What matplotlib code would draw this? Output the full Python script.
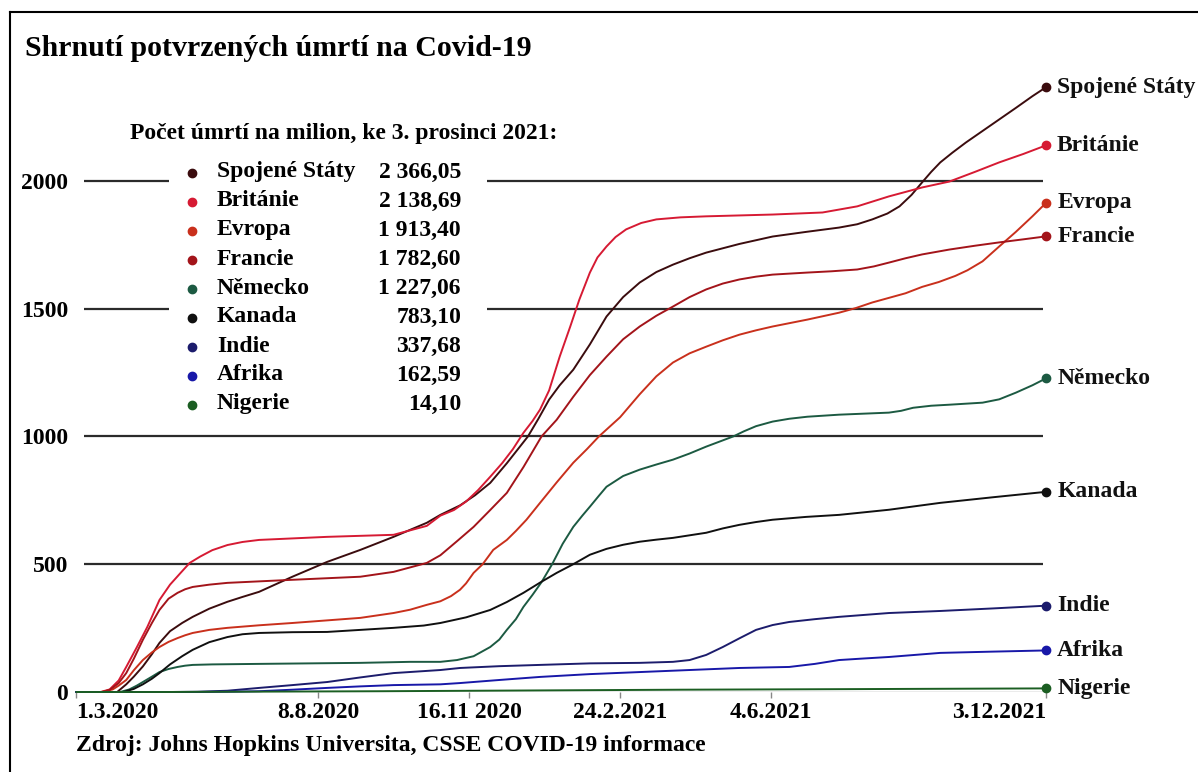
import matplotlib
matplotlib.use("Agg")
import matplotlib.pyplot as plt
from matplotlib.lines import Line2D
from matplotlib.patches import Rectangle

plt.rcParams["font.family"] = ["Liberation Serif", "DejaVu Serif"]
plt.rcParams["font.weight"] = "bold"

W, H = 1198, 772

# days since 1.3.2020 and deaths per million
us_d = [0, 27, 33, 38, 44, 50, 55, 62, 70, 77, 88, 100, 110, 121, 143, 166, 188, 210, 232, 241,
        254, 264, 274, 285, 299, 306, 313, 320, 329, 340, 351, 362, 373, 384, 395, 406, 417, 439,
        461, 483, 505, 517, 527, 537, 545, 553, 560, 566, 572, 580, 589, 600, 611, 622, 633, 642]
us_v = [0, 0, 30, 60, 100, 148, 192, 238, 270, 294, 326, 353, 372, 392, 451, 509, 556, 607, 662, 693,
        730, 770, 818, 895, 1000, 1070, 1144, 1200, 1261, 1360, 1469, 1545, 1602, 1643, 1672, 1697, 1719, 1753,
        1782, 1800, 1817, 1830, 1849, 1872, 1900, 1945, 1994, 2035, 2072, 2110, 2150, 2195, 2240, 2285, 2331, 2366.05]

uk_d = [0, 16, 22, 28, 33, 40, 47, 55, 62, 69, 75, 82, 90, 100, 110, 121, 166, 210, 232, 241,
        250, 258, 266, 274, 282, 289, 296, 302, 307, 313, 320, 327, 333, 340, 345, 351, 357, 364,
        374, 384, 400, 417, 461, 494, 517, 538, 560, 578, 595, 611, 627, 642]
uk_v = [0, 0, 10, 45, 98, 175, 255, 360, 420, 466, 505, 530, 555, 575, 587, 595, 607, 615, 650, 690,
        712, 745, 790, 842, 896, 950, 1014, 1060, 1105, 1180, 1312, 1430, 1535, 1641, 1700, 1743, 1780, 1810,
        1835, 1849, 1857, 1861, 1868, 1876, 1900, 1939, 1974, 1997, 2035, 2072, 2105, 2138.69]

eu_d = [0, 17, 24, 28, 33, 38, 44, 50, 55, 61, 67, 72, 77, 88, 100, 121, 143, 188, 210, 221,
        232, 241, 248, 254, 258, 263, 269, 276, 285, 291, 298, 307, 318, 329, 338, 346, 360, 373,
        384, 395, 406, 417, 428, 439, 450, 461, 484, 505, 516, 527, 538, 549, 560, 571, 582, 590,
        600, 611, 622, 633, 642]
eu_v = [0, 0, 10, 25, 47, 85, 125, 155, 176, 196, 211, 222, 231, 243, 251, 261, 270, 290, 309, 322,
        341, 355, 375, 400, 425, 466, 500, 556, 595, 630, 674, 740, 820, 897, 950, 1000, 1075, 1165,
        1235, 1289, 1325, 1351, 1376, 1398, 1415, 1430, 1457, 1484, 1502, 1524, 1542, 1560, 1585, 1604, 1628, 1650,
        1685, 1743, 1800, 1861, 1913.40]

fr_d = [0, 17, 22, 28, 33, 38, 44, 50, 55, 61, 67, 72, 77, 88, 100, 143, 188, 210, 232, 241,
        252, 263, 274, 285, 296, 308, 318, 329, 340, 351, 362, 373, 384, 395, 406, 417, 428, 439,
        450, 461, 484, 500, 517, 528, 538, 549, 560, 578, 595, 611, 627, 642]
fr_v = [0, 0, 8, 35, 74, 130, 204, 270, 321, 365, 388, 402, 411, 420, 427, 439, 451, 470, 505, 535,
        590, 646, 712, 779, 880, 1000, 1065, 1155, 1240, 1312, 1380, 1430, 1472, 1508, 1545, 1575, 1598, 1614,
        1625, 1633, 1641, 1646, 1653, 1665, 1680, 1697, 1712, 1731, 1746, 1759, 1771, 1782.60]

de_d = [0, 29, 35, 40, 44, 50, 55, 61, 67, 72, 77, 90, 121, 188, 221, 241, 252, 263, 274, 280,
        285, 291, 296, 302, 308, 315, 322, 329, 335, 340, 346, 351, 362, 373, 384, 395, 406, 417,
        426, 435, 442, 450, 461, 472, 484, 505, 538, 546, 554, 566, 578, 600, 611, 622, 633, 642]
de_v = [0, 0, 10, 25, 39, 60, 78, 90, 98, 103, 106, 108, 110, 114, 118, 118, 125, 140, 176, 205,
        243, 285, 333, 380, 430, 500, 580, 646, 690, 725, 768, 803, 845, 870, 890, 909, 933, 960,
        980, 1000, 1020, 1040, 1058, 1069, 1077, 1085, 1093, 1100, 1112, 1120, 1124, 1132, 1145, 1171, 1200, 1227.06]

ca_d = [0, 31, 38, 44, 50, 55, 62, 70, 77, 88, 100, 110, 121, 143, 166, 210, 230, 241, 258, 274,
        285, 296, 307, 318, 329, 340, 351, 362, 373, 384, 395, 406, 417, 428, 439, 450, 461, 483,
        505, 538, 572, 607, 642]
ca_v = [0, 0, 12, 30, 52, 74, 108, 140, 165, 195, 215, 226, 231, 234, 235, 251, 260, 270, 292, 321,
        352, 388, 428, 466, 500, 537, 560, 576, 588, 596, 603, 613, 623, 640, 654, 665, 674, 685,
        693, 713, 740, 762, 783.10]

in_d = [0, 62, 80, 100, 121, 143, 166, 188, 210, 241, 254, 280, 307, 340, 373, 395, 406, 417,
        428, 439, 450, 461, 472, 489, 505, 538, 572, 607, 642]
in_v = [0, 0, 1, 5, 16, 27, 39, 57, 74, 86, 94, 101, 106, 112, 114, 118, 125, 145,
        176, 210, 243, 262, 274, 285, 294, 309, 317, 327, 337.68]

af_d = [0, 80, 100, 121, 143, 166, 188, 210, 241, 254, 280, 307, 340, 373, 406, 439, 472, 489,
        505, 521, 538, 555, 572, 607, 642]
af_v = [0, 0, 1, 3, 9, 16, 22, 27, 30, 35, 47, 59, 70, 78, 86, 94, 98, 110,
        125, 131, 137, 145, 153, 158, 162.59]

ng_d = [0, 60, 100, 200, 300, 400, 500, 642]
ng_v = [0, 0, 1, 3, 6, 9, 11, 14.10]

names = ["Spojené Státy", "Británie", "Evropa", "Francie", "Německo",
         "Kanada", "Indie", "Afrika", "Nigerie"]
values_txt = ["2 366,05", "2 138,69", "1 913,40", "1 782,60", "1 227,06",
              "783,10", "337,68", "162,59", "14,10"]
colors = ["#3b0c0e", "#d61a33", "#c9301c", "#a3141a", "#1c5a42",
          "#101010", "#1c1c6c", "#1818a8", "#1b5e22"]
series = [(us_d, us_v), (uk_d, uk_v), (eu_d, eu_v), (fr_d, fr_v), (de_d, de_v),
          (ca_d, ca_v), (in_d, in_v), (af_d, af_v), (ng_d, ng_v)]

xticks = [0, 160, 260, 360, 460, 642]
xlabels = ["1.3.2020", "8.8.2020", "16.11 2020", "24.2.2021", "4.6.2021", "3.12.2021"]
yticks = [0, 500, 1000, 1500, 2000]


def fx(x):
    return x / W


def fy(y):
    return 1 - y / H


fig = plt.figure(figsize=(W / 100, H / 100), dpi=100)
ax = fig.add_axes([76.4 / W, 80 / H, (1046 - 76.4) / W, 639 / H])
ax.set_xlim(0, 642)
ax.set_ylim(0, 2500)
for s in ax.spines.values():
    s.set_visible(False)

# horizontal grid lines
ax.hlines(yticks[1:], 5, 640, color="#2b2b2b", lw=1.6, zorder=1)
ax.hlines(0, 0, 642, color="#999999", lw=1, zorder=1)

# white box behind the legend
ax.add_patch(Rectangle((61, 1065), 211, 1020, facecolor="white", edgecolor="none", zorder=2))

for (d, v), c in zip(series, colors):
    ax.plot(d, v, color=c, lw=1.4, zorder=3, clip_on=False, solid_joinstyle="round")
    ax.plot(d[-1], v[-1], "o", color=c, ms=6, zorder=4, clip_on=False)

for name, (d, v) in zip(names, series):
    ax.annotate(name, (642, v[-1]), xytext=(8, 0), textcoords="offset points",
                fontsize=17, fontweight="bold", va="center", ha="left", color="#111111",
                annotation_clip=False)

ax.set_yticks(yticks)
ax.set_yticklabels([str(t) for t in yticks], fontsize=17, fontweight="bold")
ax.tick_params(axis="y", length=0, pad=6)
ax.set_xticks(xticks)
ax.set_xticklabels(xlabels, fontsize=17, fontweight="bold")
ax.tick_params(axis="x", length=4, width=1, color="#888888", pad=3)
xl = ax.get_xticklabels()
xl[0].set_ha("left")
xl[-1].set_ha("right")

# legend block
fig.text(fx(130), fy(133), "Počet úmrtí na milion, ke 3. prosinci 2021:", fontsize=17,
         fontweight="bold", va="center", ha="left")
for i, (name, val, c) in enumerate(zip(names, values_txt, colors)):
    yy = 172 + 29 * i
    fig.add_artist(Line2D([fx(192)], [fy(yy + 1)], marker="o", ms=6, color=c, lw=0))
    fig.text(fx(217), fy(yy), name, fontsize=17, fontweight="bold", va="center", ha="left")
    fig.text(fx(461), fy(yy), val, fontsize=17, fontweight="bold", va="center", ha="right")

fig.text(fx(25), fy(49), "Shrnutí potvrzených úmrtí na Covid-19", fontsize=21.5,
         fontweight="bold", va="center", ha="left")
fig.text(fx(76), fy(746), "Zdroj: Johns Hopkins Universita, CSSE COVID-19 informace",
         fontsize=17, fontweight="bold", va="center", ha="left")

# frame: top and left edges
fig.add_artist(Line2D([fx(10), fx(W)], [fy(12), fy(12)], color="black", lw=1.5))
fig.add_artist(Line2D([fx(10), fx(10)], [fy(12), fy(H)], color="black", lw=1.5))

fig.savefig("out.png", dpi=100)
